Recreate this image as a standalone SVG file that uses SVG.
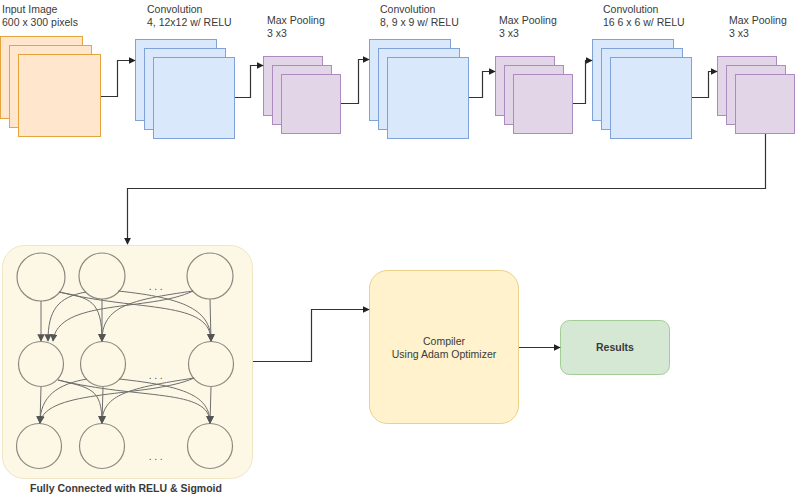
<svg xmlns="http://www.w3.org/2000/svg" width="800" height="498" viewBox="0 0 800 498">
<defs>
<style>
.lbl{font-family:"Liberation Sans",Arial,sans-serif;font-size:10.5px;fill:#3a3a3a}
.ctr{text-anchor:middle}
.bold{font-weight:bold}
.dots{letter-spacing:2.5px;fill:#555}
.org{fill:#ffe6cc;stroke:#e6a43c;stroke-width:1}
.blu{fill:#dae8fc;stroke:#7fa2d8;stroke-width:1}
.pur{fill:#e1d5e7;stroke:#ad8bc0;stroke-width:1}
.conn{fill:none;stroke:#333;stroke-width:1.2}
.nn{fill:none;stroke:#8c8a80;stroke-width:1.2}
.edge{fill:none;stroke:#6e6e6e;stroke-width:1}
</style>
<marker id="arr" viewBox="0 0 10 10" refX="9" refY="5" markerWidth="7" markerHeight="7" markerUnits="userSpaceOnUse" orient="auto">
<path d="M0,0 L10,5 L0,10 Z" fill="#222"/>
</marker>
<marker id="arr2" viewBox="0 0 10 10" refX="9" refY="5" markerWidth="7.5" markerHeight="7.5" markerUnits="userSpaceOnUse" orient="auto">
<path d="M0,0 L10,5 L0,10 Z" fill="#555"/>
</marker>
</defs>
<rect width="800" height="498" fill="#fff"/>

<g id="input">
<rect class="org" x="0.5" y="36.5" width="82" height="82"/>
<rect class="org" x="9.5" y="45.5" width="82" height="82"/>
<rect class="org" x="18.5" y="54.5" width="82" height="82"/>
<text class="lbl" x="2" y="13">Input Image</text>
<text class="lbl" x="2" y="26">600 x 300 pixels</text>
</g>

<g id="conv1">
<rect class="blu" x="135.5" y="39.5" width="81" height="81"/>
<rect class="blu" x="144.5" y="48.5" width="81" height="81"/>
<rect class="blu" x="153.5" y="57.5" width="81" height="81"/>
<text class="lbl" x="147" y="13">Convolution</text>
<text class="lbl" x="147" y="26">4, 12x12 w/ RELU</text>
</g>

<g id="pool1">
<rect class="pur" x="263.5" y="56.5" width="59" height="59"/>
<rect class="pur" x="272.5" y="65.5" width="59" height="59"/>
<rect class="pur" x="281.5" y="74.5" width="59" height="59"/>
<text class="lbl" x="267" y="24">Max Pooling</text>
<text class="lbl" x="267" y="37">3 x3</text>
</g>

<g id="conv2">
<rect class="blu" x="369.5" y="39.5" width="81" height="81"/>
<rect class="blu" x="378.5" y="48.5" width="81" height="81"/>
<rect class="blu" x="387.5" y="57.5" width="81" height="81"/>
<text class="lbl" x="380" y="13">Convolution</text>
<text class="lbl" x="380" y="26">8, 9 x 9 w/ RELU</text>
</g>

<g id="pool2">
<rect class="pur" x="495.5" y="56.5" width="59" height="59"/>
<rect class="pur" x="504.5" y="65.5" width="59" height="59"/>
<rect class="pur" x="513.5" y="74.5" width="59" height="59"/>
<text class="lbl" x="499" y="24">Max Pooling</text>
<text class="lbl" x="499" y="37">3 x3</text>
</g>

<g id="conv3">
<rect class="blu" x="592.5" y="39.5" width="81" height="81"/>
<rect class="blu" x="601.5" y="48.5" width="81" height="81"/>
<rect class="blu" x="610.5" y="57.5" width="81" height="81"/>
<text class="lbl" x="603" y="13">Convolution</text>
<text class="lbl" x="603" y="26">16 6 x 6 w/ RELU</text>
</g>

<g id="pool3">
<rect class="pur" x="717.5" y="56.5" width="59" height="59"/>
<rect class="pur" x="726.5" y="65.5" width="59" height="59"/>
<rect class="pur" x="735.5" y="74.5" width="59" height="59"/>
<text class="lbl" x="729" y="24">Max Pooling</text>
<text class="lbl" x="729" y="37">3 x3</text>
</g>

<g id="fc">
<rect x="2.5" y="245.5" width="250" height="233" rx="22" fill="#fdf8e6" stroke="#f1e6c3" stroke-width="1"/>
<circle class="nn" cx="41" cy="277" r="24"/>
<circle class="nn" cx="102" cy="276" r="23"/>
<circle class="nn" cx="210" cy="276" r="23"/>
<circle class="nn" cx="41" cy="364" r="22.5"/>
<circle class="nn" cx="103" cy="364" r="22.5"/>
<circle class="nn" cx="211" cy="364" r="22.5"/>
<circle class="nn" cx="39" cy="446" r="22.5"/>
<circle class="nn" cx="102" cy="446" r="22.5"/>
<circle class="nn" cx="210" cy="446" r="22.5"/>
<text class="lbl ctr dots" x="157" y="290">...</text>
<text class="lbl ctr dots" x="157" y="379">...</text>
<text class="lbl ctr dots" x="157" y="460">...</text>
<g id="fc-edges">
<path class="edge" marker-end="url(#arr2)" d="M41,301 L41,341"/>
<path class="edge" marker-end="url(#arr2)" d="M102,299 L102,341"/>
<path class="edge" marker-end="url(#arr2)" d="M210,299 L211,341"/>
<path class="edge" marker-end="url(#arr2)" d="M59,292 C90,298 102,300 102,341"/>
<path class="edge" marker-end="url(#arr2)" d="M59,292 C140,312 211,300 211,341"/>
<path class="edge" marker-end="url(#arr2)" d="M86,292 C58,297 48,310 48,341"/>
<path class="edge" marker-end="url(#arr2)" d="M118,291 C185,298 211,310 211,341"/>
<path class="edge" marker-end="url(#arr2)" d="M193,291 C150,312 58,298 53,341"/>
<path class="edge" marker-end="url(#arr2)" d="M193,291 C130,300 102,306 102,341"/>

<path class="edge" marker-end="url(#arr2)" d="M41,387 L40,423"/>
<path class="edge" marker-end="url(#arr2)" d="M103,387 L102,423"/>
<path class="edge" marker-end="url(#arr2)" d="M211,387 L210,423"/>
<path class="edge" marker-end="url(#arr2)" d="M58,380 C90,388 102,388 102,423"/>
<path class="edge" marker-end="url(#arr2)" d="M58,380 C140,400 210,388 210,423"/>
<path class="edge" marker-end="url(#arr2)" d="M87,379 C58,384 40,396 40,423"/>
<path class="edge" marker-end="url(#arr2)" d="M119,379 C185,386 210,396 210,423"/>
<path class="edge" marker-end="url(#arr2)" d="M194,378 C150,398 45,388 40,423"/>
<path class="edge" marker-end="url(#arr2)" d="M194,378 C130,388 102,394 102,423"/>
</g>
<text class="lbl ctr bold" x="126" y="492">Fully Connected with RELU &amp; Sigmoid</text>
</g>

<g id="compiler">
<rect x="369.5" y="270.5" width="149" height="153" rx="18" fill="#fff2cc" stroke="#ecd08a" stroke-width="1"/>
<text class="lbl ctr" x="444" y="345">Compiler</text>
<text class="lbl ctr" x="444" y="358">Using Adam Optimizer</text>
</g>

<g id="results">
<rect x="560.5" y="320.5" width="109" height="54" rx="9" fill="#d5e8d4" stroke="#a3cd96" stroke-width="1"/>
<text class="lbl ctr bold" x="615" y="351">Results</text>
</g>

<g id="connectors">
<path class="conn" marker-end="url(#arr)" d="M101,96.5 H117.5 V60.5 H135"/>
<path class="conn" marker-end="url(#arr)" d="M235,97.5 H250.5 V65.5 H263"/>
<path class="conn" marker-end="url(#arr)" d="M341,103.5 H358.5 V59.5 H369"/>
<path class="conn" marker-end="url(#arr)" d="M469,97.5 H482.5 V71.5 H495"/>
<path class="conn" marker-end="url(#arr)" d="M573,103.5 H585.5 V60.5 H592"/>
<path class="conn" marker-end="url(#arr)" d="M692,97.5 H708.5 V71.5 H717"/>
<path class="conn" marker-end="url(#arr)" d="M765.5,134 V188.5 H127.5 V244"/>
<path class="conn" marker-end="url(#arr)" d="M253,361.5 H311.5 V309.5 H369"/>
<path class="conn" marker-end="url(#arr)" d="M519,347.5 H560"/>
</g>
</svg>
